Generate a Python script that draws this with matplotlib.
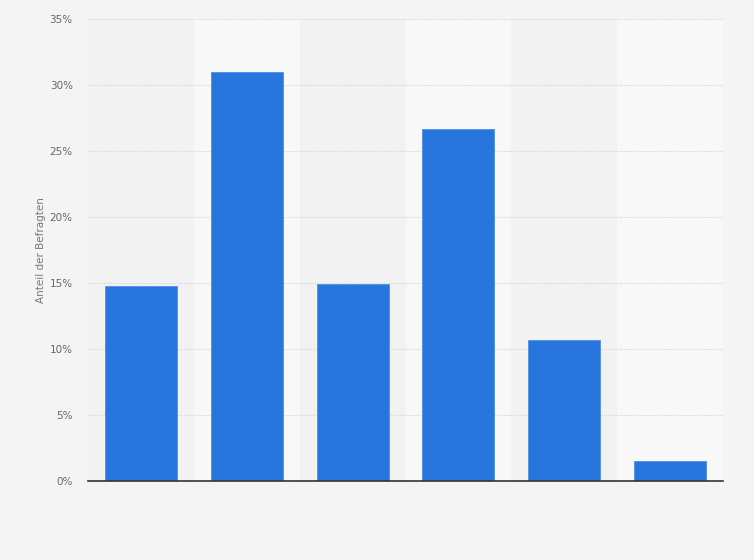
import matplotlib
matplotlib.use('Agg')
import matplotlib.pyplot as plt
import numpy as np

# no category labels are shown on the chart
categories = ["A", "B", "C", "D", "E", "F"]
values = [14.8, 31.0, 14.9, 26.7, 10.7, 1.5]
yticks = [0, 5, 10, 15, 20, 25, 30, 35]

fig = plt.figure(figsize=(7.54, 5.60), dpi=100)
fig.patch.set_facecolor('#f4f4f4')
ax = fig.add_axes([88/754, 79/560, 635/754, 462/560])
ax.set_facecolor('#f2f2f2')

ind = np.arange(len(values))
for i in ind:
    if i % 2 == 1:
        ax.axvspan(i - 0.5, i + 0.5, color='#f8f8f8', zorder=0, lw=0)

ax.bar(ind, values, 0.68, color='#2876dd', edgecolor='#4d8fe6', linewidth=0.6, zorder=3)

ax.set_xlim(-0.5, len(values) - 0.5)
ax.set_ylim(0, 35)
ax.set_yticks(yticks)
ax.set_yticklabels([f"{t}%" for t in yticks])
ax.set_xticks(ind)
ax.set_xticklabels([])
ax.tick_params(axis='both', length=0, labelsize=7.5, labelcolor='#666666', pad=11)
ax.grid(axis='y', color='#d6d6d6', linestyle=(0, (1, 1)), linewidth=0.8, zorder=1)

for s in ['top', 'right', 'left']:
    ax.spines[s].set_visible(False)
ax.spines['bottom'].set_color('#333333')
ax.spines['bottom'].set_linewidth(1.2)
ax.spines['bottom'].set_zorder(4)

ax.set_ylabel('Anteil der Befragten', fontsize=7.5, color='#777777')
ax.yaxis.set_label_coords(-0.066, 0.5)

plt.savefig('out.png', dpi=100, facecolor=fig.get_facecolor())
